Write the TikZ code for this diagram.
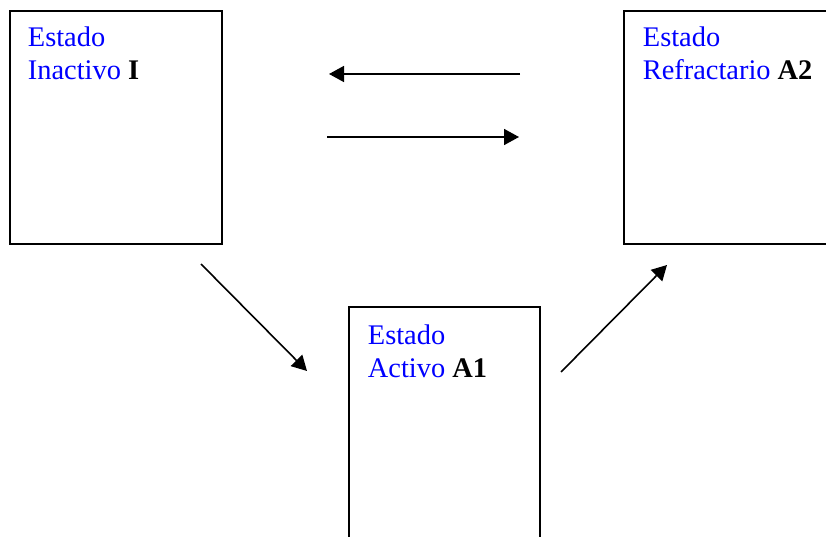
\documentclass[tikz,border=0pt]{standalone}
\usepackage{fontspec}
\setmainfont{Liberation Serif}
\usetikzlibrary{arrows.meta, positioning}

\begin{document}
\begin{tikzpicture}[
    x=1pt, y=-1pt,
    >={Triangle[length=15pt,width=16pt]},
    line width=1.6pt,
    statebox/.style={rectangle, draw, inner sep=0pt, line width=1.8pt},
    statetext/.style={inner sep=0pt, align=left, text=blue,
        font=\fontsize{28.4}{33}\selectfont}]
]
    \useasboundingbox (0,0) rectangle (826,537);

    % the three states
    \node[statebox, minimum width=212pt, minimum height=233pt] (Inact)   at (116,127.5)   {};
    \node[statebox, minimum width=216pt, minimum height=233pt] (Refract) at (732,127.5)   {};
    \node[statebox, minimum width=191pt, minimum height=253pt] (Activ)   at (444.5,433.5) {};

    \node[statetext, below right=16pt and 18pt of Inact.north west]   (InactTxt)
        {Estado\\Inactivo \textcolor{black}{\textbf{I}}};
    \node[statetext, below right=16pt and 19pt of Refract.north west] (RefractTxt)
        {Estado\\Refractario \textcolor{black}{\textbf{A2}}};
    \node[statetext, below right=18pt and 19pt of Activ.north west]   (ActivTxt)
        {Estado\\Activo \textcolor{black}{\textbf{A1}}};

    % free arrows between the boxes
    \coordinate (backStart) at (520,74);
    \coordinate (backEnd)   at (329,74);
    \coordinate (fwdStart)  at (327,137);
    \coordinate (fwdEnd)    at (519,137);
    \coordinate (downStart) at (201,264);
    \coordinate (downEnd)   at (307,371);
    \coordinate (upStart)   at (561,372);
    \coordinate (upEnd)     at (667,265);

    \draw[->] (backStart) -- (backEnd);
    \draw[->] (fwdStart)  -- (fwdEnd);
    \draw[->] (downStart) -- (downEnd);
    \draw[->] (upStart)   -- (upEnd);
\end{tikzpicture}
\end{document}
